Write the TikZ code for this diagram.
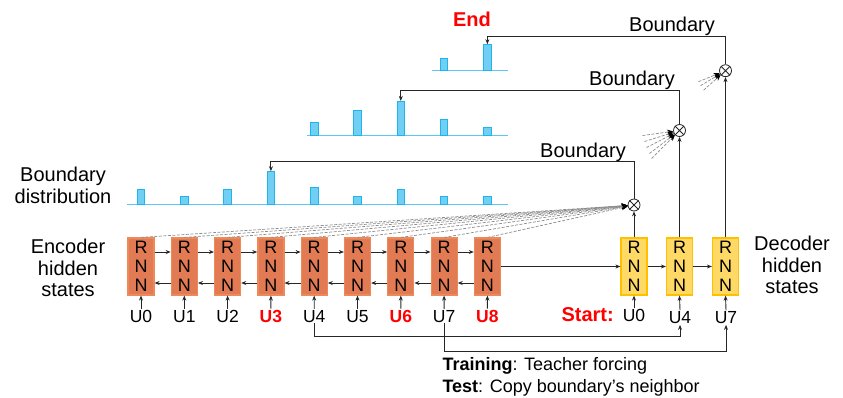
\documentclass[tikz,border=0pt]{standalone}
\usepackage{fontspec}
\setmainfont{Liberation Sans}
\usetikzlibrary{arrows.meta}
\definecolor{encfill}{HTML}{E27B53}
\definecolor{encdraw}{HTML}{EE8A5A}
\definecolor{decfill}{HTML}{FFD966}
\definecolor{decdraw}{HTML}{FFC000}
\definecolor{barfill}{HTML}{72CFF4}
\definecolor{bardraw}{HTML}{1EB4EE}
\definecolor{basecol}{HTML}{5CC8F2}
\begin{document}
\begin{tikzpicture}[x=1pt,y=-1pt,
  enc/.style={draw=encdraw, fill=encfill, line width=1.2pt, minimum width=26pt, minimum height=57pt, inner sep=0pt, align=center, font=\fontsize{18}{19}\selectfont},
  dec/.style={enc, draw=decdraw, fill=decfill},
  ulab/.style={font=\fontsize{17.5}{18}\selectfont, inner sep=1pt, anchor=base},
  ured/.style={ulab, font=\fontsize{17.5}{18}\selectfont\bfseries, text=red},
  big/.style={font=\fontsize{20}{21.5}\selectfont, align=center},
  arr/.style={-{Stealth[length=5pt,width=4pt]}, line width=0.9pt, draw=black!85},
  dline/.style={dash pattern=on 3pt off 1.5pt, draw=black!45, line width=0.7pt, -{Stealth[length=6pt,width=5pt,black]}},
  bar/.style={draw=bardraw, fill=barfill, line width=0.8pt, minimum width=7.5pt, inner sep=0pt, anchor=south},
  baseline/.style={draw=basecol, line width=1.2pt},
  mult/.style={circle, draw=black!85, line width=0.8pt, minimum size=12pt, inner sep=0pt}
]
\useasboundingbox (0,0) rectangle (843,397);

% encoder
\foreach \i in {0,...,8} {
  \node[enc] (e\i) at ({141+43.3*\i},266.5) {R\\N\\N};
}
\foreach \i [evaluate=\i as \j using int(\i+1)] in {0,...,7} {
  \draw[arr] ([yshift=14.5pt]e\i.east) -- ([yshift=14.5pt]e\j.west);
  \draw[arr] ([yshift=-16.5pt]e\j.west) -- ([yshift=-16.5pt]e\i.east);
}
\node[ulab] (u0) at (141,322) {U0};
\node[ulab] (u1) at (184.3,322) {U1};
\node[ulab] (u2) at (227.6,322) {U2};
\node[ured] (u3) at (270.9,322) {U3};
\node[ulab] (u4) at (314.2,322) {U4};
\node[ulab] (u5) at (357.5,322) {U5};
\node[ured] (u6) at (400.8,322) {U6};
\node[ulab] (u7) at (444.1,322) {U7};
\node[ured] (u8) at (487.4,322) {U8};
\foreach \i in {0,...,8} { \draw[arr] (u\i.north) -- (e\i.south); }

% decoder
\node[dec] (d0) at (634,266.5) {R\\N\\N};
\node[dec] (d1) at (679.5,266.5) {R\\N\\N};
\node[dec] (d2) at (725.5,266.5) {R\\N\\N};
\draw[arr] (e8.east) -- (d0.west);
\draw[arr] (d0.east) -- (d1.west);
\draw[arr] (d1.east) -- (d2.west);
\node[ulab] (du0) at (634,321.5) {U0};
\node[ulab] (du1) at (680,323.5) {U4};
\node[ulab] (du2) at (726,323.5) {U7};
\foreach \i in {0,1,2} { \draw[arr] (du\i.north) -- (d\i.south); }
\node[font=\fontsize{20}{20}\selectfont\bfseries, text=red, anchor=base east, inner sep=0pt] (start) at (614,321.7) {Start:};

% side labels
\node[big] (enclab) at (68,268) {Encoder\\hidden\\states};
\node[big] (declab) at (792,265) {Decoder\\hidden\\states};
\node[big] (distlab) at (63,185.5) {Boundary\\distribution};

% bottom distribution
\draw[baseline] (126.8,204.5) coordinate (bl0a) -- (507.8,204.5) coordinate (bl0b);
\foreach \i/\h in {0/15,1/7.6,2/15,3/32.5,4/16.5,5/7.6,6/15,7/7.6,8/7.6} {
  \node[bar, minimum height=\h pt] (b\i) at ({141+43.3*\i},204.5) {};
}
% middle distribution
\draw[baseline] (307,135.7) coordinate (bl1a) -- (508,135.7) coordinate (bl1b);
\foreach \i/\h in {0/13,1/25,2/34,3/15.7,4/8} {
  \node[bar, minimum height=\h pt] (mb\i) at ({314.2+43.3*\i},135.7) {};
}
% top distribution
\draw[baseline] (431.7,70.3) coordinate (bl2a) -- (507.7,70.3) coordinate (bl2b);
\node[bar, minimum height=12pt] (tb0) at (444.1,70.3) {};
\node[bar, minimum height=25.3pt] (tb1) at (487.4,70.3) {};
\node[font=\fontsize{20}{20}\selectfont\bfseries, text=red, anchor=base, inner sep=0pt] (endlab) at (472,26.5) {End};

% multiply nodes
\node[mult] (m0) at (634,205) {};
\node[mult] (m1) at (679.5,130.5) {};
\node[mult] (m2) at (725.5,70.7) {};
\foreach \m in {m0,m1,m2} {
  \draw[line width=0.8pt, black!85] (\m.north east) -- (\m.south west) (\m.north west) -- (\m.south east);
}
\draw[arr] (d0.north) -- (m0.south);
\draw[arr] (d1.north) -- (m1.south);
\draw[arr] (d2.north) -- (m2.south);

% dashed attention lines
\foreach \i in {0,...,8} { \draw[dline] (e\i.north) -- (m0); }
\foreach \dx/\dy in {-37/5,-35/11,-33/17,-30/23,-28/28} {
  \draw[dline] ([shift={(\dx,\dy)}]m1.center) -- (m1);
}
\foreach \dx/\dy in {-27/11,-25/15,-22/19.5} {
  \draw[dline] ([shift={(\dx,\dy)}]m2.center) -- (m2);
}

% boundary feedback
\coordinate (c0) at (634,161.8);
\coordinate (c1) at (679.5,90.7);
\coordinate (c2) at (725.5,36);
\draw[arr] (m0.north) -- (c0) -| (b3.north);
\draw[arr] (m1.north) -- (c1) -| (mb2.north);
\draw[arr] (m2.north) -- (c2) -| (tb1.north);
\node[font=\fontsize{20}{20}\selectfont, anchor=base east, inner sep=0pt] (bt0) at (626,157.5) {Boundary};
\node[font=\fontsize{20}{20}\selectfont, anchor=base east, inner sep=0pt] (bt1) at (675,85) {Boundary};
\node[font=\fontsize{20}{20}\selectfont, anchor=base east, inner sep=0pt] (bt2) at (715,31.7) {Boundary};

% bottom copy connectors
\coordinate (k0) at (314.2,336.7);
\coordinate (k1) at (444.1,351.7);
\draw[arr] (u4.south) -- (k0) -| (du1.south);
\draw[arr] (u7.south) -- (k1) -| (du2.south);
\node[font=\fontsize{18}{22}\selectfont, anchor=base west, inner sep=0pt] (train) at (442.3,370) {\textbf{Training}: Teacher forcing};
\node[font=\fontsize{18}{22}\selectfont, anchor=base west, inner sep=0pt] (test) at (442.3,392) {\textbf{Test}: Copy boundary’s neighbor};
\end{tikzpicture}
\end{document}
